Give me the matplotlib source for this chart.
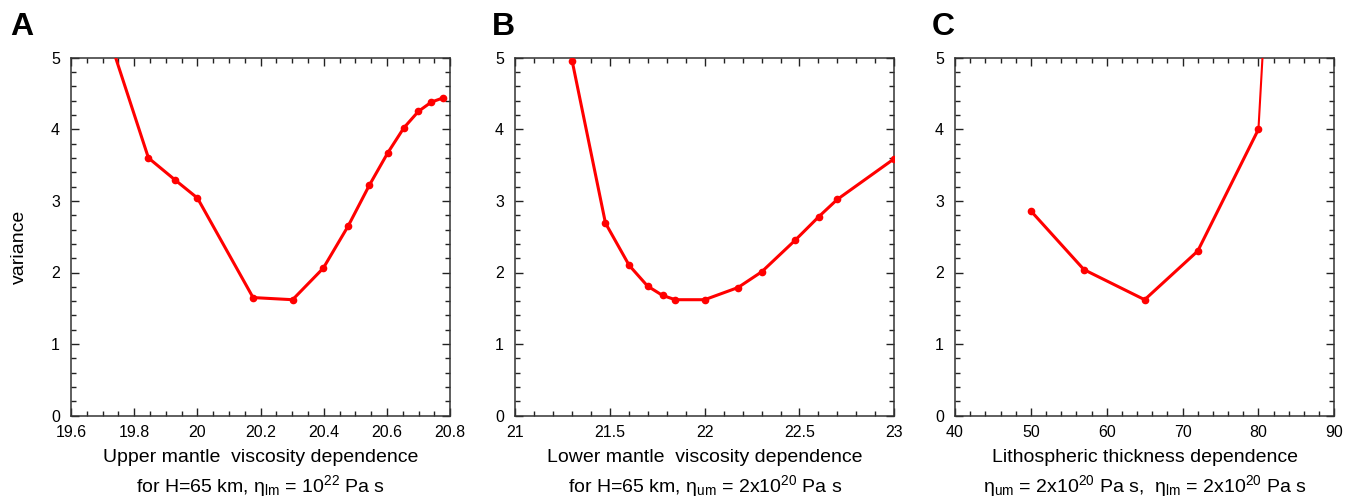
import matplotlib
matplotlib.use("Agg")
import matplotlib.pyplot as plt
from matplotlib.ticker import MultipleLocator

plt.rcParams['font.family'] = ['Liberation Sans', 'DejaVu Sans']
plt.rcParams['mathtext.fontset'] = 'custom'
plt.rcParams['mathtext.rm'] = 'Liberation Sans'
plt.rcParams['mathtext.it'] = 'Liberation Sans:italic'
plt.rcParams['mathtext.bf'] = 'Liberation Sans:bold'

# Panel A: upper mantle viscosity (log10 Pa s)
a_x = [19.699, 19.845, 19.93, 20.0, 20.176, 20.301, 20.398, 20.477, 20.544, 20.602, 20.653, 20.699, 20.74, 20.778]
a_y = [5.57, 3.60, 3.29, 3.04, 1.65, 1.62, 2.06, 2.65, 3.22, 3.67, 4.02, 4.25, 4.38, 4.44]

# Panel B: lower mantle viscosity (log10 Pa s)
b_x = [21.301, 21.477, 21.602, 21.699, 21.778, 21.845, 22.0, 22.176, 22.301, 22.477, 22.602, 22.699, 23.0]
b_y = [4.96, 2.69, 2.10, 1.81, 1.68, 1.62, 1.62, 1.79, 2.01, 2.45, 2.78, 3.02, 3.59]

# Panel C: lithospheric thickness (km)
c_x = [50, 57, 65, 72, 80, 85]
c_y = [2.86, 2.04, 1.62, 2.30, 4.00, 13.4]

panel_letters = ["A", "B", "C"]
xlabels1 = ["Upper mantle  viscosity dependence",
            "Lower mantle  viscosity dependence",
            "Lithospheric thickness dependence"]
xlabels2 = [r"for H=65 km, η$_{\mathrm{lm}}$ = 10$^{22}$ Pa s",
            r"for H=65 km, η$_{\mathrm{um}}$ = 2x10$^{20}$ Pa s",
            r"η$_{\mathrm{um}}$ = 2x10$^{20}$ Pa s,  η$_{\mathrm{lm}}$ = 2x10$^{20}$ Pa s"]
xlims = [(19.6, 20.8), (21, 23), (40, 90)]
xmajor = [0.2, 0.5, 10]
xminor = [0.05, 0.1, 2]

W, H = 1346, 501
fig = plt.figure(figsize=(W / 100, H / 100), dpi=100)

lefts = [71, 515, 955]
ax_w = 379.3
ax_top, ax_bot = 57.7, 415.7
letter_x = [10, 492, 932]

red = '#ff0000'
spine_col = '#333333'

datasets = [(a_x, a_y), (b_x, b_y), (c_x, c_y)]
for i in range(3):
    ax = fig.add_axes([lefts[i] / W, 1 - ax_bot / H, ax_w / W, (ax_bot - ax_top) / H])
    xs, ys = datasets[i]
    if i == 2:
        ax.plot(xs[:-1], ys[:-1], color=red, lw=2.2, marker='o', ms=4.5, zorder=3)
        ax.plot(xs[-2:], ys[-2:], color=red, lw=1.5, zorder=3)
    else:
        ax.plot(xs, ys, color=red, lw=2.2, marker='o', ms=4.5, zorder=3)
    ax.set_xlim(*xlims[i])
    ax.set_ylim(0, 5)
    ax.xaxis.set_major_locator(MultipleLocator(xmajor[i]))
    ax.xaxis.set_minor_locator(MultipleLocator(xminor[i]))
    ax.yaxis.set_major_locator(MultipleLocator(1))
    ax.yaxis.set_minor_locator(MultipleLocator(0.2))
    ax.tick_params(which='both', direction='in', top=True, right=True, colors='#222222',
                   labelsize=11.5, width=1.0)
    ax.tick_params(which='major', length=6)
    ax.tick_params(which='minor', length=3.5)
    ax.tick_params(axis='x', which='major', pad=7, labelcolor='black')
    ax.tick_params(axis='y', which='major', pad=8, labelcolor='black')
    ax.xaxis.set_major_formatter(matplotlib.ticker.FuncFormatter(lambda v, p: f"{v:g}"))
    for s in ax.spines.values():
        s.set_color(spine_col)
        s.set_linewidth(1.1)
    cx = (lefts[i] + ax_w / 2) / W
    fig.text(cx, 1 - 457 / H, xlabels1[i], ha='center', va='center', fontsize=14)
    fig.text(cx, 1 - 486 / H, xlabels2[i], ha='center', va='center', fontsize=14)
    fig.text(letter_x[i] / W, 1 - 12 / H, panel_letters[i], ha='left', va='top',
             fontsize=23, fontweight='bold')

fig.text(19 / W, 1 - 247 / H, "variance", rotation=90, ha='center', va='center', fontsize=14)

fig.savefig("out.png", dpi=100)
